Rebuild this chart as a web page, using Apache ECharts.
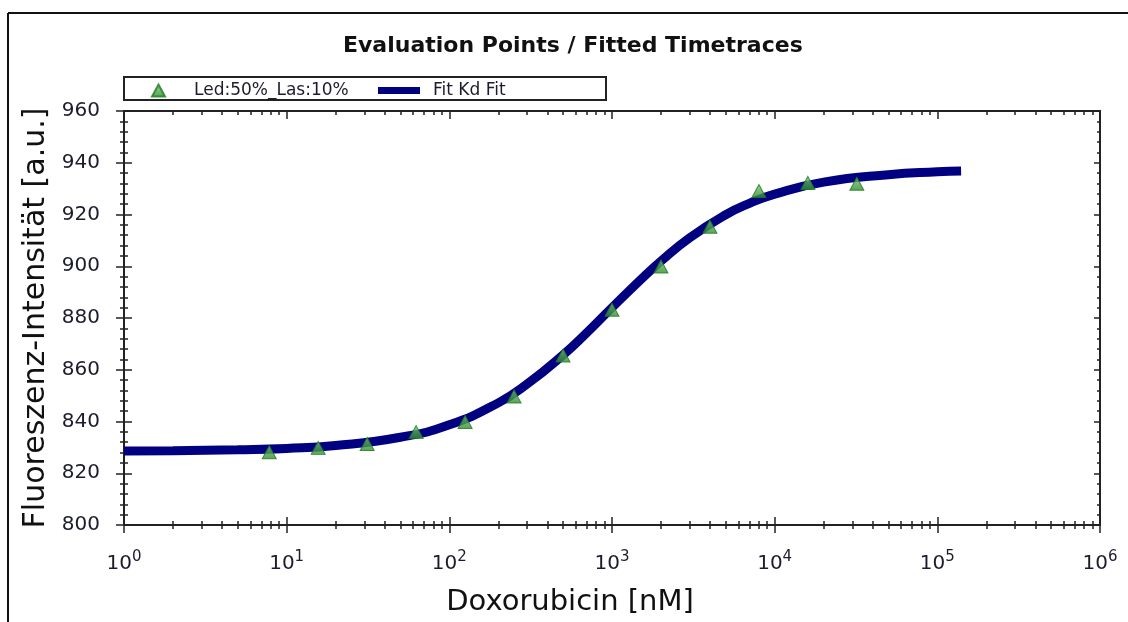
<!DOCTYPE html>
<html>
<head>
<meta charset="utf-8">
<title>Evaluation Points / Fitted Timetraces</title>
<script src="https://cdn.jsdelivr.net/npm/echarts@6/dist/echarts.min.js"></script>
<style>
  html, body { margin: 0; padding: 0; background: #fff; }
  #chart { width: 1128px; height: 622px; }
</style>
</head>
<body>
<div id="chart"></div>
<script>
// measured points (Doxorubicin concentration in nM, intensity in a.u.)
const pointX = [7.8125, 15.625, 31.25, 62.5, 125, 250, 500, 1000, 2000, 4000, 8000, 16000, 32000]
const pointY = [828.1, 829.8, 831.3, 835.9, 839.8, 849.7, 865.5, 883.2, 899.9, 915.3, 929.1, 932.2, 931.9]

// fitted curve
const fitX = [1, 2, 5, 10, 20, 50, 100, 200, 300, 500, 700, 1000, 1500, 2000, 3000, 5000, 7000, 10000, 20000, 50000, 100000, 140000]
const fitY = [828.6, 828.7, 829.1, 829.6, 830.7, 833.9, 838.7, 847.2, 854.4, 865.7, 874.3, 884.0, 894.8, 902.0, 911.0, 919.9, 924.3, 927.9, 932.5, 935.4, 936.5, 936.8]

const yTicks = { min: 800, max: 960, interval: 20 }
const xRange = { min: 1, max: 1000000 }

const FONT = 'DejaVu Sans'
const TXT = '#1c1c2c'

const chart = echarts.init(document.getElementById('chart'))

const axisLine = { show: true, onZero: false, lineStyle: { color: '#222', width: 2 } }

const logAxis = (extra) => Object.assign({
  type: 'log',
  logBase: 10,
  min: xRange.min,
  max: xRange.max,
  splitLine: { show: false },
  axisLine: axisLine,
  axisLabel: { show: false },
  minorTick: { show: true, splitNumber: 9, length: 4, lineStyle: { color: '#222', width: 1.5 } }
}, extra)

const valAxis = (extra) => Object.assign({
  type: 'value',
  min: yTicks.min,
  max: yTicks.max,
  interval: yTicks.interval,
  splitLine: { show: false },
  axisLine: axisLine,
  axisLabel: { show: false },
  minorTick: { show: true, splitNumber: 5, length: 4, lineStyle: { color: '#222', width: 1.5 } }
}, extra)

const option = {
  animation: false,
  backgroundColor: '#fff',
  title: {
    text: 'Evaluation Points / Fitted Timetraces',
    left: 338,
    top: 30,
    textStyle: { fontFamily: FONT, fontSize: 22, fontWeight: 'bold', color: '#111' }
  },
  legend: [
    {
      data: [{ name: 'Led:50%_Las:10%', icon: 'triangle' }],
      left: 146,
      top: 77,
      itemWidth: 13,
      itemHeight: 12,
      z: 5,
      textStyle: { fontFamily: FONT, fontSize: 17, color: TXT, padding: [0, 0, 0, 24] }
    },
    {
      data: [{ name: 'Fit Kd Fit', icon: 'rect' }],
      left: 373,
      top: 77,
      itemWidth: 42,
      itemHeight: 7,
      z: 5,
      textStyle: { fontFamily: FONT, fontSize: 17, color: TXT, padding: [0, 0, 0, 8] }
    }
  ],
  grid: { left: 124, right: 28, top: 111, bottom: 96 },
  xAxis: [
    logAxis({
      position: 'bottom',
      name: 'Doxorubicin [nM]',
      nameLocation: 'middle',
      nameGap: 63,
      nameTextStyle: { fontFamily: FONT, fontSize: 29, color: '#111', padding: [0, 84, 0, 0] },
      axisTick: { show: true, length: 8, lineStyle: { color: '#222', width: 1.5 } },
      axisLabel: {
        show: true,
        margin: 25,
        formatter: (v) => '{b|10}{s|' + Math.round(Math.log10(v)) + '}',
        rich: {
          b: { fontFamily: FONT, fontSize: 20, color: TXT, verticalAlign: 'bottom' },
          s: { fontFamily: FONT, fontSize: 15, color: TXT, verticalAlign: 'top', padding: [0, 0, 9, 0] }
        }
      }
    }),
    logAxis({
      position: 'bottom',
      axisTick: { show: true, inside: true, length: 8, lineStyle: { color: '#222', width: 1.5 } },
      minorTick: { show: true, splitNumber: 9, length: 4, lineStyle: { color: '#222', width: 1.5 } }
    }),
    logAxis({
      position: 'top',
      axisTick: { show: true, inside: true, length: 8, lineStyle: { color: '#222', width: 1.5 } }
    })
  ],
  yAxis: [
    valAxis({
      position: 'left',
      name: 'Fluoreszenz-Intensität [a.u.]',
      nameLocation: 'middle',
      nameGap: 72,
      nameTextStyle: { fontFamily: FONT, fontSize: 30, color: '#111' },
      axisTick: { show: true, length: 8, lineStyle: { color: '#222', width: 1.5 } },
      axisLabel: { show: true, margin: 24, fontFamily: FONT, fontSize: 20, color: TXT }
    }),
    valAxis({
      position: 'left',
      axisTick: { show: true, inside: true, length: 8, lineStyle: { color: '#222', width: 1.5 } }
    }),
    valAxis({
      position: 'right',
      axisTick: { show: true, inside: true, length: 6, lineStyle: { color: '#222', width: 1.5 } },
      minorTick: { show: true, splitNumber: 5, length: 3, lineStyle: { color: '#222', width: 1.5 } }
    })
  ],
  graphic: [
    // outer frame of the exported figure
    { type: 'line', shape: { x1: 8, y1: 13, x2: 1128, y2: 13 }, style: { stroke: '#111', lineWidth: 2 } },
    { type: 'line', shape: { x1: 8, y1: 13, x2: 8, y2: 622 }, style: { stroke: '#111', lineWidth: 2 } },
    // legend box
    { type: 'rect', shape: { x: 124, y: 77, width: 482, height: 23 }, style: { fill: 'none', stroke: '#222', lineWidth: 2 }, z: -1 }
  ],
  series: [
    {
      name: 'Fit Kd Fit',
      type: 'line',
      xAxisIndex: 0,
      yAxisIndex: 0,
      data: fitX.map((x, i) => [x, fitY[i]]),
      smooth: true,
      showSymbol: false,
      symbol: 'none',
      color: '#000080',
      lineStyle: { color: '#000080', width: 9 },
      z: 2
    },
    {
      name: 'Led:50%_Las:10%',
      type: 'scatter',
      xAxisIndex: 0,
      yAxisIndex: 0,
      data: pointX.map((x, i) => [x, pointY[i]]),
      symbol: 'triangle',
      symbolSize: [14, 13],
      itemStyle: {
        color: new echarts.graphic.LinearGradient(0, 0, 0, 1, [
          { offset: 0, color: '#7cc47a' },
          { offset: 1, color: '#2e8b2e' }
        ]),
        borderColor: '#1a7a1a',
        borderWidth: 1
      },
      z: 3
    }
  ]
}

chart.setOption(option)
</script>
</body>
</html>
